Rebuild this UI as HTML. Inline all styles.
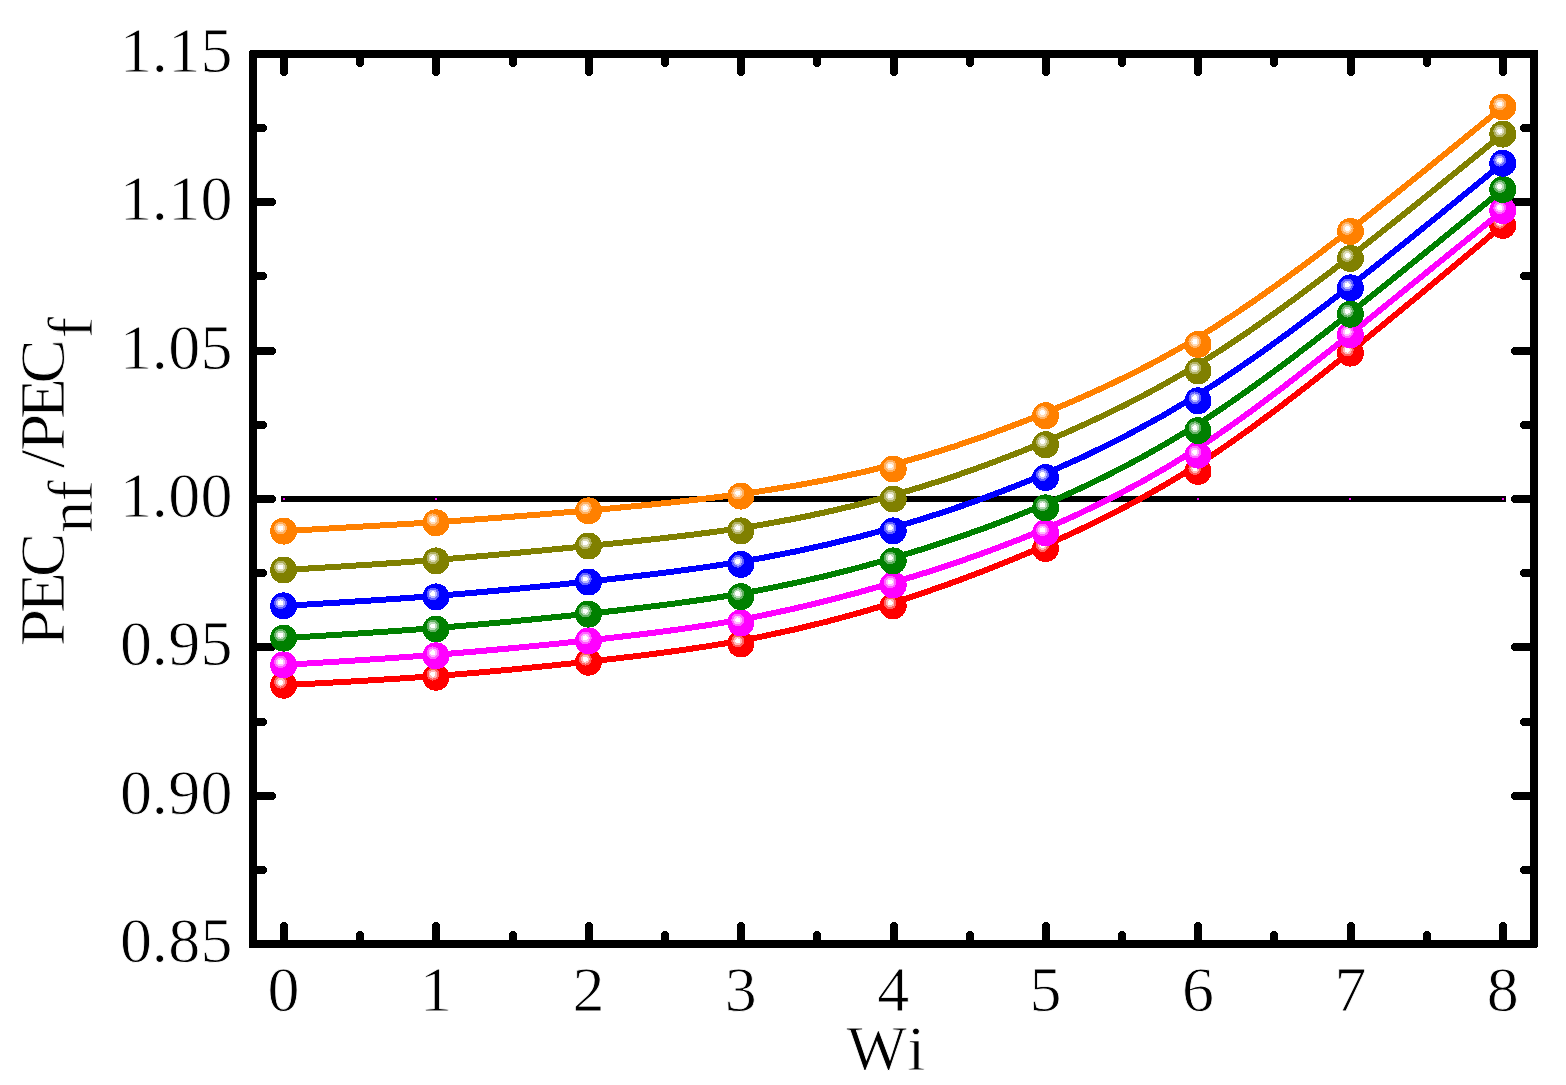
<!DOCTYPE html>
<html lang="en"><head><meta charset="utf-8"><title>PECnf/PECf versus Wi</title>
<style>html,body{margin:0;padding:0;background:#fff;overflow:hidden}svg{display:block}text{font-family:"Liberation Serif","Times New Roman",serif;font-size:64px;fill:#000;stroke:#fff;stroke-width:.8px;paint-order:fill stroke}</style></head><body>
<svg width="1566" height="1085" viewBox="0 0 1566 1085">
<rect width="1566" height="1085" fill="#fff"/>
<g fill="#000" shape-rendering="crispEdges">
<path d="M280 57H288V74H287V75H286V76H282V75H281V74H280ZM280 941H288V924H287V923H286V922H282V923H281V924H280ZM356 57H364V65H363V66H362V67H358V66H357V65H356ZM356 941H364V933H363V932H362V931H358V932H357V933H356ZM432 57H440V74H439V75H438V76H434V75H433V74H432ZM432 941H440V924H439V923H438V922H434V923H433V924H432ZM509 57H517V65H516V66H515V67H511V66H510V65H509ZM509 941H517V933H516V932H515V931H511V932H510V933H509ZM585 57H593V74H592V75H591V76H587V75H586V74H585ZM585 941H593V924H592V923H591V922H587V923H586V924H585ZM661 57H669V65H668V66H667V67H663V66H662V65H661ZM661 941H669V933H668V932H667V931H663V932H662V933H661ZM737 57H745V74H744V75H743V76H739V75H738V74H737ZM737 941H745V924H744V923H743V922H739V923H738V924H737ZM813 57H821V65H820V66H819V67H815V66H814V65H813ZM813 941H821V933H820V932H819V931H815V932H814V933H813ZM890 57H898V74H897V75H896V76H892V75H891V74H890ZM890 941H898V924H897V923H896V922H892V923H891V924H890ZM966 57H974V65H973V66H972V67H968V66H967V65H966ZM966 941H974V933H973V932H972V931H968V932H967V933H966ZM1042 57H1050V74H1049V75H1048V76H1044V75H1043V74H1042ZM1042 941H1050V924H1049V923H1048V922H1044V923H1043V924H1042ZM1118 57H1126V65H1125V66H1124V67H1120V66H1119V65H1118ZM1118 941H1126V933H1125V932H1124V931H1120V932H1119V933H1118ZM1194 57H1202V74H1201V75H1200V76H1196V75H1195V74H1194ZM1194 941H1202V924H1201V923H1200V922H1196V923H1195V924H1194ZM1270 57H1278V65H1277V66H1276V67H1272V66H1271V65H1270ZM1270 941H1278V933H1277V932H1276V931H1272V932H1271V933H1270ZM1347 57H1355V74H1354V75H1353V76H1349V75H1348V74H1347ZM1347 941H1355V924H1354V923H1353V922H1349V923H1348V924H1347ZM1423 57H1431V65H1430V66H1429V67H1425V66H1424V65H1423ZM1423 941H1431V933H1430V932H1429V931H1425V932H1424V933H1423ZM1499 57H1507V74H1506V75H1505V76H1501V75H1500V74H1499ZM1499 941H1507V924H1506V923H1505V922H1501V923H1500V924H1499ZM256 124V132H265V131H266V130H267V126H266V125H265V124ZM1531 124V132H1522V131H1521V130H1520V126H1521V125H1522V124ZM256 198V206H274V205H275V204H276V200H275V199H274V198ZM1531 198V206H1513V205H1512V204H1511V200H1512V199H1513V198ZM256 272V280H265V279H266V278H267V274H266V273H265V272ZM1531 272V280H1522V279H1521V278H1520V274H1521V273H1522V272ZM256 347V355H274V354H275V353H276V349H275V348H274V347ZM1531 347V355H1513V354H1512V353H1511V349H1512V348H1513V347ZM256 421V429H265V428H266V427H267V423H266V422H265V421ZM1531 421V429H1522V428H1521V427H1520V423H1521V422H1522V421ZM256 495V503H274V502H275V501H276V497H275V496H274V495ZM1531 495V503H1513V502H1512V501H1511V497H1512V496H1513V495ZM256 569V577H265V576H266V575H267V571H266V570H265V569ZM1531 569V577H1522V576H1521V575H1520V571H1521V570H1522V569ZM256 643V651H274V650H275V649H276V645H275V644H274V643ZM1531 643V651H1513V650H1512V649H1511V645H1512V644H1513V643ZM256 718V726H265V725H266V724H267V720H266V719H265V718ZM1531 718V726H1522V725H1521V724H1520V720H1521V719H1522V718ZM256 792V800H274V799H275V798H276V794H275V793H274V792ZM1531 792V800H1513V799H1512V798H1511V794H1512V793H1513V792ZM256 866V874H265V873H266V872H267V868H266V867H265V866ZM1531 866V874H1522V873H1521V872H1520V868H1521V867H1522V866Z"/>
</g>
<path fill="#000" fill-rule="evenodd" shape-rendering="crispEdges" d="M251 50H1536a2 2 0 0 1 2 2V946a2 2 0 0 1-2 2H251a2 2 0 0 1-2-2V52a2 2 0 0 1 2-2ZM257 58V940H1530V58Z"/>
<rect x="281" y="496" width="1225" height="6" fill="#000"/>
<g fill="#ff00ff">
<rect x="283.0" y="498" width="2" height="2"/>
<rect x="435.0" y="498" width="2" height="2"/>
<rect x="587.0" y="498" width="2" height="2"/>
<rect x="740.0" y="498" width="2" height="2"/>
<rect x="892.0" y="498" width="2" height="2"/>
<rect x="1045.0" y="498" width="2" height="2"/>
<rect x="1197.0" y="498" width="2" height="2"/>
<rect x="1349.0" y="498" width="2" height="2"/>
<rect x="1502.0" y="498" width="2" height="2"/>
</g>
<g shape-rendering="crispEdges">
<path d="M283.6 685.2C334.4 682.5 385.2 679.9 436.0 676.0C486.8 672.2 537.6 667.2 588.4 661.6C639.2 656.1 690.0 650.0 740.8 640.6C791.6 631.2 842.4 618.6 893.2 602.7C944.0 586.8 994.8 567.7 1045.6 545.3C1096.4 522.9 1147.2 497.2 1198.0 464.6C1248.8 432.0 1299.6 392.6 1350.4 351.5C1401.2 310.5 1452.0 267.9 1502.8 225.3" fill="none" stroke="#ff0000" stroke-width="6"/>
<circle cx="283.6" cy="685.2" r="13.5" fill="#ff0000"/>
<circle cx="280.5" cy="682.2" r="6.4" fill="#ff6161"/>
<circle cx="280.5" cy="682.2" r="4.4" fill="#ffb8b8"/>
<circle cx="280.5" cy="682.2" r="2.5" fill="#fff"/>
<circle cx="436.0" cy="677.2" r="13.5" fill="#ff0000"/>
<circle cx="432.9" cy="674.2" r="6.4" fill="#ff6161"/>
<circle cx="432.9" cy="674.2" r="4.4" fill="#ffb8b8"/>
<circle cx="432.9" cy="674.2" r="2.5" fill="#fff"/>
<circle cx="588.4" cy="662.2" r="13.5" fill="#ff0000"/>
<circle cx="585.3" cy="659.2" r="6.4" fill="#ff6161"/>
<circle cx="585.3" cy="659.2" r="4.4" fill="#ffb8b8"/>
<circle cx="585.3" cy="659.2" r="2.5" fill="#fff"/>
<circle cx="740.8" cy="643.9" r="13.5" fill="#ff0000"/>
<circle cx="737.7" cy="640.9" r="6.4" fill="#ff6161"/>
<circle cx="737.7" cy="640.9" r="4.4" fill="#ffb8b8"/>
<circle cx="737.7" cy="640.9" r="2.5" fill="#fff"/>
<circle cx="893.2" cy="605.9" r="13.5" fill="#ff0000"/>
<circle cx="890.1" cy="602.9" r="6.4" fill="#ff6161"/>
<circle cx="890.1" cy="602.9" r="4.4" fill="#ffb8b8"/>
<circle cx="890.1" cy="602.9" r="2.5" fill="#fff"/>
<circle cx="1045.6" cy="548.6" r="13.5" fill="#ff0000"/>
<circle cx="1042.5" cy="545.6" r="6.4" fill="#ff6161"/>
<circle cx="1042.5" cy="545.6" r="4.4" fill="#ffb8b8"/>
<circle cx="1042.5" cy="545.6" r="2.5" fill="#fff"/>
<circle cx="1198.0" cy="471.5" r="13.5" fill="#ff0000"/>
<circle cx="1194.9" cy="468.5" r="6.4" fill="#ff6161"/>
<circle cx="1194.9" cy="468.5" r="4.4" fill="#ffb8b8"/>
<circle cx="1194.9" cy="468.5" r="2.5" fill="#fff"/>
<circle cx="1350.4" cy="353.1" r="13.5" fill="#ff0000"/>
<circle cx="1347.3" cy="350.1" r="6.4" fill="#ff6161"/>
<circle cx="1347.3" cy="350.1" r="4.4" fill="#ffb8b8"/>
<circle cx="1347.3" cy="350.1" r="2.5" fill="#fff"/>
<circle cx="1502.8" cy="225.3" r="13.5" fill="#ff0000"/>
<circle cx="1499.7" cy="222.3" r="6.4" fill="#ff6161"/>
<circle cx="1499.7" cy="222.3" r="4.4" fill="#ffb8b8"/>
<circle cx="1499.7" cy="222.3" r="2.5" fill="#fff"/>
</g>
<g shape-rendering="crispEdges">
<path d="M283.6 664.9C334.4 661.9 385.2 658.8 436.0 654.8C486.8 650.8 537.6 645.9 588.4 640.4C639.2 634.9 690.0 628.9 740.8 619.6C791.6 610.3 842.4 597.6 893.2 582.6C944.0 567.6 994.8 550.3 1045.6 528.6C1096.4 507.0 1147.2 481.0 1198.0 448.0C1248.8 415.0 1299.6 374.8 1350.4 334.1C1401.2 293.4 1452.0 252.0 1502.8 210.7" fill="none" stroke="#ff00ff" stroke-width="6"/>
<circle cx="283.6" cy="664.9" r="13.5" fill="#ff00ff"/>
<circle cx="280.5" cy="661.9" r="6.4" fill="#ff61ff"/>
<circle cx="280.5" cy="661.9" r="4.4" fill="#ffb8ff"/>
<circle cx="280.5" cy="661.9" r="2.5" fill="#fff"/>
<circle cx="436.0" cy="655.8" r="13.5" fill="#ff00ff"/>
<circle cx="432.9" cy="652.8" r="6.4" fill="#ff61ff"/>
<circle cx="432.9" cy="652.8" r="4.4" fill="#ffb8ff"/>
<circle cx="432.9" cy="652.8" r="2.5" fill="#fff"/>
<circle cx="588.4" cy="640.9" r="13.5" fill="#ff00ff"/>
<circle cx="585.3" cy="637.9" r="6.4" fill="#ff61ff"/>
<circle cx="585.3" cy="637.9" r="4.4" fill="#ffb8ff"/>
<circle cx="585.3" cy="637.9" r="2.5" fill="#fff"/>
<circle cx="740.8" cy="622.9" r="13.5" fill="#ff00ff"/>
<circle cx="737.7" cy="619.9" r="6.4" fill="#ff61ff"/>
<circle cx="737.7" cy="619.9" r="4.4" fill="#ffb8ff"/>
<circle cx="737.7" cy="619.9" r="2.5" fill="#fff"/>
<circle cx="893.2" cy="585.0" r="13.5" fill="#ff00ff"/>
<circle cx="890.1" cy="582.0" r="6.4" fill="#ff61ff"/>
<circle cx="890.1" cy="582.0" r="4.4" fill="#ffb8ff"/>
<circle cx="890.1" cy="582.0" r="2.5" fill="#fff"/>
<circle cx="1045.6" cy="532.9" r="13.5" fill="#ff00ff"/>
<circle cx="1042.5" cy="529.9" r="6.4" fill="#ff61ff"/>
<circle cx="1042.5" cy="529.9" r="4.4" fill="#ffb8ff"/>
<circle cx="1042.5" cy="529.9" r="2.5" fill="#fff"/>
<circle cx="1198.0" cy="455.1" r="13.5" fill="#ff00ff"/>
<circle cx="1194.9" cy="452.1" r="6.4" fill="#ff61ff"/>
<circle cx="1194.9" cy="452.1" r="4.4" fill="#ffb8ff"/>
<circle cx="1194.9" cy="452.1" r="2.5" fill="#fff"/>
<circle cx="1350.4" cy="334.7" r="13.5" fill="#ff00ff"/>
<circle cx="1347.3" cy="331.7" r="6.4" fill="#ff61ff"/>
<circle cx="1347.3" cy="331.7" r="4.4" fill="#ffb8ff"/>
<circle cx="1347.3" cy="331.7" r="2.5" fill="#fff"/>
<circle cx="1502.8" cy="210.7" r="13.5" fill="#ff00ff"/>
<circle cx="1499.7" cy="207.7" r="6.4" fill="#ff61ff"/>
<circle cx="1499.7" cy="207.7" r="4.4" fill="#ffb8ff"/>
<circle cx="1499.7" cy="207.7" r="2.5" fill="#fff"/>
</g>
<g shape-rendering="crispEdges">
<path d="M283.6 638.1C334.4 635.1 385.2 632.0 436.0 628.0C486.8 624.0 537.6 619.1 588.4 613.7C639.2 608.3 690.0 602.5 740.8 593.6C791.6 584.8 842.4 572.8 893.2 558.0C944.0 543.2 994.8 525.6 1045.6 503.9C1096.4 482.2 1147.2 456.4 1198.0 424.1C1248.8 391.9 1299.6 353.0 1350.4 312.8C1401.2 272.6 1452.0 231.1 1502.8 189.5" fill="none" stroke="#008000" stroke-width="6"/>
<circle cx="283.6" cy="638.1" r="13.5" fill="#008000"/>
<circle cx="280.5" cy="635.1" r="6.4" fill="#61b061"/>
<circle cx="280.5" cy="635.1" r="4.4" fill="#b8dbb8"/>
<circle cx="280.5" cy="635.1" r="2.5" fill="#fff"/>
<circle cx="436.0" cy="629.0" r="13.5" fill="#008000"/>
<circle cx="432.9" cy="626.0" r="6.4" fill="#61b061"/>
<circle cx="432.9" cy="626.0" r="4.4" fill="#b8dbb8"/>
<circle cx="432.9" cy="626.0" r="2.5" fill="#fff"/>
<circle cx="588.4" cy="614.1" r="13.5" fill="#008000"/>
<circle cx="585.3" cy="611.1" r="6.4" fill="#61b061"/>
<circle cx="585.3" cy="611.1" r="4.4" fill="#b8dbb8"/>
<circle cx="585.3" cy="611.1" r="2.5" fill="#fff"/>
<circle cx="740.8" cy="596.7" r="13.5" fill="#008000"/>
<circle cx="737.7" cy="593.7" r="6.4" fill="#61b061"/>
<circle cx="737.7" cy="593.7" r="4.4" fill="#b8dbb8"/>
<circle cx="737.7" cy="593.7" r="2.5" fill="#fff"/>
<circle cx="893.2" cy="560.9" r="13.5" fill="#008000"/>
<circle cx="890.1" cy="557.9" r="6.4" fill="#61b061"/>
<circle cx="890.1" cy="557.9" r="4.4" fill="#b8dbb8"/>
<circle cx="890.1" cy="557.9" r="2.5" fill="#fff"/>
<circle cx="1045.6" cy="507.9" r="13.5" fill="#008000"/>
<circle cx="1042.5" cy="504.9" r="6.4" fill="#61b061"/>
<circle cx="1042.5" cy="504.9" r="4.4" fill="#b8dbb8"/>
<circle cx="1042.5" cy="504.9" r="2.5" fill="#fff"/>
<circle cx="1198.0" cy="430.7" r="13.5" fill="#008000"/>
<circle cx="1194.9" cy="427.7" r="6.4" fill="#61b061"/>
<circle cx="1194.9" cy="427.7" r="4.4" fill="#b8dbb8"/>
<circle cx="1194.9" cy="427.7" r="2.5" fill="#fff"/>
<circle cx="1350.4" cy="314.2" r="13.5" fill="#008000"/>
<circle cx="1347.3" cy="311.2" r="6.4" fill="#61b061"/>
<circle cx="1347.3" cy="311.2" r="4.4" fill="#b8dbb8"/>
<circle cx="1347.3" cy="311.2" r="2.5" fill="#fff"/>
<circle cx="1502.8" cy="189.5" r="13.5" fill="#008000"/>
<circle cx="1499.7" cy="186.5" r="6.4" fill="#61b061"/>
<circle cx="1499.7" cy="186.5" r="4.4" fill="#b8dbb8"/>
<circle cx="1499.7" cy="186.5" r="2.5" fill="#fff"/>
</g>
<g shape-rendering="crispEdges">
<path d="M283.6 605.9C334.4 602.9 385.2 599.9 436.0 595.9C486.8 591.9 537.6 587.0 588.4 581.5C639.2 576.1 690.0 570.2 740.8 561.7C791.6 553.2 842.4 542.0 893.2 527.6C944.0 513.1 994.8 495.4 1045.6 473.7C1096.4 452.0 1147.2 426.4 1198.0 394.8C1248.8 363.2 1299.6 325.5 1350.4 285.9C1401.2 246.3 1452.0 204.8 1502.8 163.2" fill="none" stroke="#0000ff" stroke-width="6"/>
<circle cx="283.6" cy="605.9" r="13.5" fill="#0000ff"/>
<circle cx="280.5" cy="602.9" r="6.4" fill="#6161ff"/>
<circle cx="280.5" cy="602.9" r="4.4" fill="#b8b8ff"/>
<circle cx="280.5" cy="602.9" r="2.5" fill="#fff"/>
<circle cx="436.0" cy="596.9" r="13.5" fill="#0000ff"/>
<circle cx="432.9" cy="593.9" r="6.4" fill="#6161ff"/>
<circle cx="432.9" cy="593.9" r="4.4" fill="#b8b8ff"/>
<circle cx="432.9" cy="593.9" r="2.5" fill="#fff"/>
<circle cx="588.4" cy="582.0" r="13.5" fill="#0000ff"/>
<circle cx="585.3" cy="579.0" r="6.4" fill="#6161ff"/>
<circle cx="585.3" cy="579.0" r="4.4" fill="#b8b8ff"/>
<circle cx="585.3" cy="579.0" r="2.5" fill="#fff"/>
<circle cx="740.8" cy="564.3" r="13.5" fill="#0000ff"/>
<circle cx="737.7" cy="561.3" r="6.4" fill="#6161ff"/>
<circle cx="737.7" cy="561.3" r="4.4" fill="#b8b8ff"/>
<circle cx="737.7" cy="561.3" r="2.5" fill="#fff"/>
<circle cx="893.2" cy="530.9" r="13.5" fill="#0000ff"/>
<circle cx="890.1" cy="527.9" r="6.4" fill="#6161ff"/>
<circle cx="890.1" cy="527.9" r="4.4" fill="#b8b8ff"/>
<circle cx="890.1" cy="527.9" r="2.5" fill="#fff"/>
<circle cx="1045.6" cy="477.6" r="13.5" fill="#0000ff"/>
<circle cx="1042.5" cy="474.6" r="6.4" fill="#6161ff"/>
<circle cx="1042.5" cy="474.6" r="4.4" fill="#b8b8ff"/>
<circle cx="1042.5" cy="474.6" r="2.5" fill="#fff"/>
<circle cx="1198.0" cy="400.8" r="13.5" fill="#0000ff"/>
<circle cx="1194.9" cy="397.8" r="6.4" fill="#6161ff"/>
<circle cx="1194.9" cy="397.8" r="4.4" fill="#b8b8ff"/>
<circle cx="1194.9" cy="397.8" r="2.5" fill="#fff"/>
<circle cx="1350.4" cy="287.9" r="13.5" fill="#0000ff"/>
<circle cx="1347.3" cy="284.9" r="6.4" fill="#6161ff"/>
<circle cx="1347.3" cy="284.9" r="4.4" fill="#b8b8ff"/>
<circle cx="1347.3" cy="284.9" r="2.5" fill="#fff"/>
<circle cx="1502.8" cy="163.2" r="13.5" fill="#0000ff"/>
<circle cx="1499.7" cy="160.2" r="6.4" fill="#6161ff"/>
<circle cx="1499.7" cy="160.2" r="4.4" fill="#b8b8ff"/>
<circle cx="1499.7" cy="160.2" r="2.5" fill="#fff"/>
</g>
<g shape-rendering="crispEdges">
<path d="M283.6 570.0C334.4 567.0 385.2 563.9 436.0 559.9C486.8 555.9 537.6 551.0 588.4 546.0C639.2 541.0 690.0 535.9 740.8 528.1C791.6 520.3 842.4 509.6 893.2 495.3C944.0 480.9 994.8 462.8 1045.6 441.5C1096.4 420.1 1147.2 395.6 1198.0 364.5C1248.8 333.5 1299.6 296.0 1350.4 256.5C1401.2 217.0 1452.0 175.6 1502.8 134.1" fill="none" stroke="#808000" stroke-width="6"/>
<circle cx="283.6" cy="570.0" r="13.5" fill="#808000"/>
<circle cx="280.5" cy="567.0" r="6.4" fill="#b0b061"/>
<circle cx="280.5" cy="567.0" r="4.4" fill="#dbdbb8"/>
<circle cx="280.5" cy="567.0" r="2.5" fill="#fff"/>
<circle cx="436.0" cy="560.9" r="13.5" fill="#808000"/>
<circle cx="432.9" cy="557.9" r="6.4" fill="#b0b061"/>
<circle cx="432.9" cy="557.9" r="4.4" fill="#dbdbb8"/>
<circle cx="432.9" cy="557.9" r="2.5" fill="#fff"/>
<circle cx="588.4" cy="546.0" r="13.5" fill="#808000"/>
<circle cx="585.3" cy="543.0" r="6.4" fill="#b0b061"/>
<circle cx="585.3" cy="543.0" r="4.4" fill="#dbdbb8"/>
<circle cx="585.3" cy="543.0" r="2.5" fill="#fff"/>
<circle cx="740.8" cy="530.9" r="13.5" fill="#808000"/>
<circle cx="737.7" cy="527.9" r="6.4" fill="#b0b061"/>
<circle cx="737.7" cy="527.9" r="4.4" fill="#dbdbb8"/>
<circle cx="737.7" cy="527.9" r="2.5" fill="#fff"/>
<circle cx="893.2" cy="499.0" r="13.5" fill="#808000"/>
<circle cx="890.1" cy="496.0" r="6.4" fill="#b0b061"/>
<circle cx="890.1" cy="496.0" r="4.4" fill="#dbdbb8"/>
<circle cx="890.1" cy="496.0" r="2.5" fill="#fff"/>
<circle cx="1045.6" cy="444.7" r="13.5" fill="#808000"/>
<circle cx="1042.5" cy="441.7" r="6.4" fill="#b0b061"/>
<circle cx="1042.5" cy="441.7" r="4.4" fill="#dbdbb8"/>
<circle cx="1042.5" cy="441.7" r="2.5" fill="#fff"/>
<circle cx="1198.0" cy="371.0" r="13.5" fill="#808000"/>
<circle cx="1194.9" cy="368.0" r="6.4" fill="#b0b061"/>
<circle cx="1194.9" cy="368.0" r="4.4" fill="#dbdbb8"/>
<circle cx="1194.9" cy="368.0" r="2.5" fill="#fff"/>
<circle cx="1350.4" cy="258.5" r="13.5" fill="#808000"/>
<circle cx="1347.3" cy="255.5" r="6.4" fill="#b0b061"/>
<circle cx="1347.3" cy="255.5" r="4.4" fill="#dbdbb8"/>
<circle cx="1347.3" cy="255.5" r="2.5" fill="#fff"/>
<circle cx="1502.8" cy="134.1" r="13.5" fill="#808000"/>
<circle cx="1499.7" cy="131.1" r="6.4" fill="#b0b061"/>
<circle cx="1499.7" cy="131.1" r="4.4" fill="#dbdbb8"/>
<circle cx="1499.7" cy="131.1" r="2.5" fill="#fff"/>
</g>
<g shape-rendering="crispEdges">
<path d="M283.6 531.1C334.4 528.3 385.2 525.6 436.0 522.2C486.8 518.8 537.6 514.9 588.4 510.4C639.2 506.0 690.0 501.0 740.8 494.1C791.6 487.1 842.4 478.0 893.2 464.6C944.0 451.2 994.8 433.5 1045.6 412.7C1096.4 392.0 1147.2 368.2 1198.0 337.5C1248.8 306.8 1299.6 269.2 1350.4 229.6C1401.2 190.0 1452.0 148.5 1502.8 107.0" fill="none" stroke="#ff8000" stroke-width="6"/>
<circle cx="283.6" cy="531.1" r="13.5" fill="#ff8000"/>
<circle cx="280.5" cy="528.1" r="6.4" fill="#ffb061"/>
<circle cx="280.5" cy="528.1" r="4.4" fill="#ffdbb8"/>
<circle cx="280.5" cy="528.1" r="2.5" fill="#fff"/>
<circle cx="436.0" cy="522.8" r="13.5" fill="#ff8000"/>
<circle cx="432.9" cy="519.8" r="6.4" fill="#ffb061"/>
<circle cx="432.9" cy="519.8" r="4.4" fill="#ffdbb8"/>
<circle cx="432.9" cy="519.8" r="2.5" fill="#fff"/>
<circle cx="588.4" cy="510.9" r="13.5" fill="#ff8000"/>
<circle cx="585.3" cy="507.9" r="6.4" fill="#ffb061"/>
<circle cx="585.3" cy="507.9" r="4.4" fill="#ffdbb8"/>
<circle cx="585.3" cy="507.9" r="2.5" fill="#fff"/>
<circle cx="740.8" cy="496.1" r="13.5" fill="#ff8000"/>
<circle cx="737.7" cy="493.1" r="6.4" fill="#ffb061"/>
<circle cx="737.7" cy="493.1" r="4.4" fill="#ffdbb8"/>
<circle cx="737.7" cy="493.1" r="2.5" fill="#fff"/>
<circle cx="893.2" cy="469.0" r="13.5" fill="#ff8000"/>
<circle cx="890.1" cy="466.0" r="6.4" fill="#ffb061"/>
<circle cx="890.1" cy="466.0" r="4.4" fill="#ffdbb8"/>
<circle cx="890.1" cy="466.0" r="2.5" fill="#fff"/>
<circle cx="1045.6" cy="415.7" r="13.5" fill="#ff8000"/>
<circle cx="1042.5" cy="412.7" r="6.4" fill="#ffb061"/>
<circle cx="1042.5" cy="412.7" r="4.4" fill="#ffdbb8"/>
<circle cx="1042.5" cy="412.7" r="2.5" fill="#fff"/>
<circle cx="1198.0" cy="344.5" r="13.5" fill="#ff8000"/>
<circle cx="1194.9" cy="341.5" r="6.4" fill="#ffb061"/>
<circle cx="1194.9" cy="341.5" r="4.4" fill="#ffdbb8"/>
<circle cx="1194.9" cy="341.5" r="2.5" fill="#fff"/>
<circle cx="1350.4" cy="231.5" r="13.5" fill="#ff8000"/>
<circle cx="1347.3" cy="228.5" r="6.4" fill="#ffb061"/>
<circle cx="1347.3" cy="228.5" r="4.4" fill="#ffdbb8"/>
<circle cx="1347.3" cy="228.5" r="2.5" fill="#fff"/>
<circle cx="1502.8" cy="107.0" r="13.5" fill="#ff8000"/>
<circle cx="1499.7" cy="104.0" r="6.4" fill="#ffb061"/>
<circle cx="1499.7" cy="104.0" r="4.4" fill="#ffdbb8"/>
<circle cx="1499.7" cy="104.0" r="2.5" fill="#fff"/>
</g>
<text x="119.9 151.8 168.2 200.4" y="71.9">1.15</text>
<text x="119.9 151.8 168.2 200.4" y="220.2">1.10</text>
<text x="119.9 151.8 168.2 200.4" y="368.6">1.05</text>
<text x="119.9 151.8 168.2 200.4" y="516.9">1.00</text>
<text x="119.9 151.8 168.2 200.4" y="665.2">0.95</text>
<text x="119.9 151.8 168.2 200.4" y="813.6">0.90</text>
<text x="119.9 151.8 168.2 200.4" y="961.9">0.85</text>
<text x="283.6" y="1011.1" text-anchor="middle">0</text>
<text x="436.0" y="1011.1" text-anchor="middle">1</text>
<text x="588.4" y="1011.1" text-anchor="middle">2</text>
<text x="740.8" y="1011.1" text-anchor="middle">3</text>
<text x="893.2" y="1011.1" text-anchor="middle">4</text>
<text x="1045.6" y="1011.1" text-anchor="middle">5</text>
<text x="1198.0" y="1011.1" text-anchor="middle">6</text>
<text x="1350.4" y="1011.1" text-anchor="middle">7</text>
<text x="1502.8" y="1011.1" text-anchor="middle">8</text>
<text x="846.6 907.6" y="1070.3">Wi</text>
<g transform="translate(63.8 645.2) rotate(-90)">
<text transform="scale(1.05 1)" x="-1.06 30.64 64.82" y="0">PEC</text>
<text x="112.5 143.7" y="28.6">nf</text>
<text transform="scale(1.05 1)" x="168.63 184.94 215.5 249.02" y="0">/PEC</text>
<text x="307" y="28.6">f</text>
</g>
</svg></body></html>
